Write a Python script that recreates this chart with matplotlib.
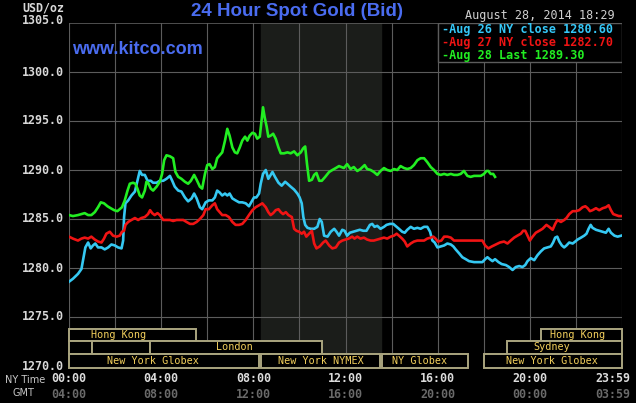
import matplotlib
matplotlib.use("Agg")
import matplotlib.pyplot as plt
from matplotlib.patches import Rectangle
import matplotlib.transforms as mtransforms

# Aug 26 NY close series (cyan): hours (NY time), price
aug26_t = [0.00, 0.17, 0.39, 0.54, 0.61, 0.71, 0.83, 0.94, 1.04, 1.14, 1.26, 1.41, 1.55, 1.70,
           1.84, 1.99, 2.13, 2.28, 2.35, 2.39, 2.45, 2.57, 2.71, 2.86, 2.97, 3.07, 3.17, 3.29,
           3.41, 3.55, 3.65, 3.80, 3.94, 4.09, 4.23, 4.38, 4.48, 4.59, 4.74, 4.88, 5.03, 5.17,
           5.32, 5.43, 5.54, 5.68, 5.78, 5.93, 6.07, 6.22, 6.33, 6.43, 6.54, 6.65, 6.77, 6.87,
           6.97, 7.09, 7.23, 7.38, 7.52, 7.67, 7.81, 7.93, 8.03, 8.13, 8.25, 8.32, 8.42, 8.54,
           8.65, 8.75, 8.83, 8.94, 9.09, 9.23, 9.38, 9.48, 9.62, 9.77, 9.91, 10.01, 10.10, 10.17,
           10.25, 10.35, 10.49, 10.64, 10.78, 10.88, 10.97, 11.07, 11.22, 11.36, 11.51, 11.61,
           11.72, 11.86, 11.96, 12.07, 12.19, 12.33, 12.48, 12.62, 12.77, 12.91, 13.06, 13.16,
           13.26, 13.38, 13.52, 13.67, 13.78, 13.93, 14.07, 14.17, 14.32, 14.46, 14.57, 14.68,
           14.83, 14.97, 15.12, 15.26, 15.41, 15.55, 15.67, 15.77, 15.87, 15.99, 16.13, 16.28,
           16.42, 16.57, 16.68, 16.78, 16.93, 17.07, 17.22, 17.36, 17.58, 17.65, 17.94, 18.06,
           18.16, 18.26, 18.38, 18.49, 18.64, 18.78, 18.96, 19.10, 19.25, 19.39, 19.54, 19.68,
           19.80, 19.90, 20.04, 20.19, 20.33, 20.48, 20.62, 20.77, 20.91, 21.01, 21.10, 21.19,
           21.28, 21.39, 21.49, 21.59, 21.71, 21.86, 21.97, 22.07, 22.22, 22.36, 22.46, 22.55,
           22.64, 22.72, 22.87, 23.01, 23.16, 23.30, 23.42, 23.52, 23.67, 23.81, 23.97]
aug26_p = [1278.6, 1278.9, 1279.4, 1279.9, 1280.8, 1282.1, 1282.6, 1282.0, 1282.3, 1282.5, 1282.1,
           1282.1, 1281.9, 1282.1, 1282.4, 1282.3, 1282.1, 1282.0, 1282.8, 1285.2, 1286.6, 1286.9,
           1287.4, 1287.8, 1288.9, 1289.9, 1289.5, 1289.5, 1288.9, 1288.9, 1288.7, 1288.7, 1288.9,
           1288.9, 1289.1, 1289.4, 1288.9, 1288.3, 1287.9, 1287.8, 1287.2, 1286.8, 1287.1, 1287.6,
           1287.1, 1286.2, 1286.0, 1286.7, 1286.9, 1286.9, 1287.2, 1287.9, 1287.7, 1287.4, 1287.6,
           1287.4, 1287.6, 1287.1, 1286.9, 1286.7, 1286.7, 1286.6, 1286.3, 1286.8, 1287.2, 1287.2,
           1287.6, 1288.6, 1289.6, 1290.0, 1289.1, 1289.5, 1289.8, 1289.3, 1288.7, 1288.4, 1288.8,
           1288.6, 1288.3, 1288.0, 1287.6, 1287.2, 1286.6, 1285.2, 1284.4, 1284.1, 1284.0, 1284.0,
           1284.2, 1285.0, 1284.7, 1283.3, 1283.2, 1283.7, 1284.0, 1283.7, 1283.3, 1283.9, 1283.8,
           1283.3, 1283.6, 1283.7, 1283.8, 1283.9, 1283.8, 1283.8, 1284.4, 1284.5, 1284.2, 1284.3,
           1284.0, 1284.2, 1284.4, 1284.5, 1284.5, 1284.3, 1284.0, 1283.7, 1283.6, 1283.9, 1284.2,
           1284.0, 1284.1, 1284.0, 1284.2, 1284.2, 1283.7, 1282.8, 1282.6, 1282.1, 1282.2, 1282.3,
           1282.5, 1282.4, 1282.2, 1281.9, 1281.5, 1281.1, 1280.9, 1280.7, 1280.6, 1280.6, 1280.6,
           1280.9, 1281.1, 1280.9, 1280.7, 1280.9, 1280.6, 1280.4, 1280.3, 1280.1, 1279.8, 1280.1,
           1280.2, 1280.1, 1280.3, 1280.7, 1281.0, 1280.8, 1281.3, 1281.7, 1282.0, 1282.1, 1282.2,
           1282.6, 1283.1, 1283.2, 1282.7, 1282.3, 1282.1, 1282.3, 1282.6, 1282.5, 1282.7, 1282.9,
           1283.1, 1283.3, 1283.5, 1284.0, 1284.4, 1284.1, 1283.9, 1283.8, 1283.7, 1283.6, 1284.0,
           1283.6, 1283.3, 1283.2, 1283.3]

# Aug 27 NY close series (red)
aug27_t = [0.00, 0.17, 0.39, 0.54, 0.68, 0.83, 0.97, 1.12, 1.26, 1.41, 1.52, 1.62, 1.77, 1.91,
           2.06, 2.20, 2.30, 2.39, 2.45, 2.57, 2.71, 2.86, 3.00, 3.14, 3.29, 3.43, 3.52, 3.61,
           3.72, 3.84, 3.94, 4.09, 4.23, 4.38, 4.52, 4.67, 4.81, 4.96, 5.10, 5.25, 5.39, 5.54,
           5.68, 5.83, 5.93, 6.07, 6.22, 6.33, 6.43, 6.54, 6.65, 6.80, 6.94, 7.09, 7.23, 7.38,
           7.52, 7.67, 7.81, 7.96, 8.10, 8.25, 8.39, 8.54, 8.65, 8.75, 8.86, 8.97, 9.09, 9.19,
           9.29, 9.41, 9.52, 9.67, 9.77, 9.87, 9.99, 10.10, 10.20, 10.30, 10.42, 10.54, 10.64,
           10.74, 10.88, 11.03, 11.14, 11.29, 11.43, 11.58, 11.72, 11.86, 12.00, 12.14, 12.29,
           12.39, 12.51, 12.65, 12.80, 12.94, 13.09, 13.23, 13.38, 13.52, 13.67, 13.81, 13.96,
           14.10, 14.22, 14.32, 14.46, 14.57, 14.68, 14.83, 14.97, 15.12, 15.26, 15.41, 15.55,
           15.70, 15.81, 15.91, 16.01, 16.16, 16.28, 16.42, 16.57, 16.71, 16.86, 17.00, 17.29,
           17.58, 17.65, 17.94, 18.06, 18.20, 18.35, 18.52, 18.70, 18.88, 19.03, 19.17, 19.32,
           19.46, 19.61, 19.71, 19.80, 19.90, 20.00, 20.12, 20.26, 20.41, 20.55, 20.72, 20.84,
           20.99, 21.10, 21.20, 21.35, 21.49, 21.59, 21.71, 21.86, 22.00, 22.14, 22.29, 22.41,
           22.51, 22.61, 22.72, 22.87, 23.01, 23.16, 23.30, 23.42, 23.52, 23.62, 23.74, 23.86,
           23.97]
aug27_p = [1283.2, 1283.0, 1282.8, 1283.0, 1283.1, 1283.0, 1283.2, 1282.9, 1282.7, 1282.6, 1283.0,
           1283.5, 1283.7, 1283.3, 1283.2, 1283.3, 1283.7, 1283.8, 1284.4, 1284.7, 1284.9, 1285.1,
           1284.9, 1285.1, 1285.2, 1285.5, 1285.9, 1285.6, 1285.4, 1285.6, 1285.4, 1284.9, 1284.9,
           1284.9, 1284.8, 1284.9, 1284.9, 1284.9, 1284.7, 1284.5, 1284.5, 1284.7, 1285.0, 1285.4,
           1286.0, 1286.0, 1286.4, 1286.6, 1286.0, 1285.7, 1285.4, 1285.4, 1285.2, 1284.7, 1284.4,
           1284.4, 1284.5, 1284.9, 1285.4, 1285.9, 1286.2, 1286.4, 1286.6, 1286.2, 1285.7, 1285.4,
           1285.6, 1285.9, 1286.0, 1285.7, 1285.5, 1285.7, 1285.4, 1285.2, 1284.0, 1283.8, 1283.7,
           1283.5, 1283.7, 1283.2, 1283.5, 1283.8, 1282.5, 1282.0, 1282.2, 1282.6, 1282.8, 1282.3,
           1282.0, 1282.1, 1282.6, 1282.8, 1282.9, 1283.0, 1283.2, 1283.0, 1283.2, 1283.0, 1283.1,
           1282.9, 1282.8, 1282.8, 1282.9, 1283.0, 1283.1, 1283.0, 1283.2, 1283.3, 1283.5, 1283.3,
           1283.0, 1282.7, 1282.2, 1282.5, 1282.7, 1282.8, 1282.8, 1282.8, 1283.0, 1283.1, 1283.2,
           1283.0, 1282.7, 1282.8, 1283.2, 1283.2, 1283.1, 1282.8, 1282.8, 1282.8, 1282.8, 1282.8,
           1282.8, 1282.8, 1282.3, 1282.0, 1282.2, 1282.4, 1282.6, 1282.7, 1282.5, 1282.8, 1283.1,
           1283.3, 1283.5, 1283.8, 1283.8, 1283.3, 1282.8, 1283.2, 1283.6, 1283.8, 1284.0, 1284.4,
           1284.2, 1283.9, 1284.5, 1284.9, 1284.7, 1284.9, 1285.1, 1285.5, 1285.8, 1285.8, 1285.9,
           1286.2, 1286.3, 1286.1, 1285.8, 1285.9, 1286.1, 1285.9, 1286.1, 1286.2, 1286.4, 1285.9,
           1285.5, 1285.4, 1285.3, 1285.3]

# Aug 28 last (green), stops at 18:29
aug28_t = [0.00, 0.17, 0.39, 0.54, 0.68, 0.83, 0.97, 1.12, 1.26, 1.38, 1.52, 1.67, 1.81, 1.96,
           2.10, 2.20, 2.30, 2.42, 2.54, 2.64, 2.78, 2.88, 2.97, 3.07, 3.17, 3.29, 3.36, 3.43,
           3.55, 3.65, 3.80, 3.94, 4.04, 4.13, 4.23, 4.38, 4.52, 4.62, 4.74, 4.88, 5.03, 5.17,
           5.29, 5.43, 5.54, 5.68, 5.78, 5.90, 6.00, 6.10, 6.22, 6.33, 6.43, 6.54, 6.65, 6.77,
           6.87, 6.97, 7.09, 7.20, 7.30, 7.41, 7.52, 7.64, 7.74, 7.84, 7.96, 8.07, 8.17, 8.28,
           8.36, 8.42, 8.49, 8.58, 8.65, 8.75, 8.86, 8.97, 9.09, 9.19, 9.33, 9.48, 9.62, 9.77,
           9.91, 10.06, 10.16, 10.25, 10.33, 10.42, 10.54, 10.64, 10.74, 10.86, 10.97, 11.12,
           11.29, 11.43, 11.58, 11.72, 11.93, 12.07, 12.22, 12.36, 12.51, 12.65, 12.83, 12.94,
           13.09, 13.23, 13.38, 13.52, 13.67, 13.81, 13.96, 14.10, 14.25, 14.39, 14.54, 14.68,
           14.83, 14.97, 15.12, 15.26, 15.41, 15.55, 15.70, 15.84, 15.99, 16.13, 16.28, 16.42,
           16.57, 16.71, 16.86, 17.00, 17.14, 17.29, 17.43, 17.58, 17.65, 17.87, 18.01, 18.12,
           18.20, 18.30, 18.41, 18.49]
aug28_p = [1285.4, 1285.3, 1285.4, 1285.5, 1285.6, 1285.4, 1285.4, 1285.7, 1286.2, 1286.7, 1286.6,
           1286.3, 1286.1, 1285.9, 1285.8, 1286.0, 1286.2, 1286.9, 1287.9, 1288.6, 1288.7, 1288.6,
           1288.1, 1287.4, 1287.2, 1287.9, 1288.8, 1288.7, 1288.1, 1287.9, 1288.3, 1288.8, 1289.6,
           1291.0, 1291.5, 1291.4, 1291.2, 1289.8, 1289.3, 1289.1, 1288.8, 1288.6, 1288.9, 1289.5,
           1289.0, 1288.3, 1288.1, 1289.6, 1290.5, 1290.6, 1290.1, 1290.3, 1291.2, 1291.5, 1291.8,
           1293.0, 1294.2, 1293.5, 1292.3, 1291.8, 1291.7, 1292.3, 1293.0, 1293.4, 1293.0, 1293.5,
           1293.8, 1293.7, 1293.2, 1293.4, 1295.1, 1296.4, 1295.4, 1294.4, 1293.4, 1293.5, 1293.7,
           1293.2, 1292.3, 1291.7, 1291.7, 1291.8, 1291.7, 1291.9, 1291.5, 1291.8, 1292.2, 1292.4,
           1290.6, 1288.9, 1289.0, 1289.5, 1289.7, 1288.9, 1288.9, 1289.3, 1289.8, 1290.0, 1290.2,
           1290.4, 1290.2, 1290.6, 1290.1, 1290.3, 1289.9, 1290.1, 1290.5, 1290.1, 1290.0, 1289.8,
           1289.5, 1289.9, 1290.2, 1290.0, 1289.9, 1290.1, 1290.0, 1290.4, 1290.2, 1290.1, 1290.2,
           1290.5, 1291.0, 1291.2, 1291.2, 1290.8, 1290.3, 1290.0, 1289.6, 1289.5, 1289.6, 1289.5,
           1289.6, 1289.5, 1289.5, 1289.6, 1289.9, 1289.4, 1289.3, 1289.4, 1289.4, 1289.4, 1289.6,
           1289.9, 1289.9, 1289.6, 1289.6, 1289.3]

legend_labels = ["-Aug 26 NY close 1280.60", "-Aug 27 NY close 1282.70", "-Aug 28 Last 1289.30"]

ny_ticks = [0, 4, 8, 12, 16, 20, 24]
ny_labels = ["00:00", "04:00", "08:00", "12:00", "16:00", "20:00", "23:59"]
gmt_labels = ["04:00", "08:00", "12:00", "16:00", "20:00", "00:00", "03:59"]
y_ticks = [1270, 1275, 1280, 1285, 1290, 1295, 1300, 1305]

# market sessions: (label, row, start hour, end hour, label hour)
sessions = [
    ("Hong Kong", 0, 0.0, 5.5, 2.15),
    ("Hong Kong", 0, 20.5, 24.0, 22.09),
    ("", 1, 0.0, 1.0, None),
    ("", 1, 1.0, 3.5, None),
    ("London", 1, 3.5, 11.0, 7.16),
    ("Sydney", 1, 19.0, 24.0, 20.96),
    ("New York Globex", 2, 0.0, 8.25, 3.65),
    ("New York NYMEX", 2, 8.33, 13.5, 10.94),
    ("NY Globex", 2, 13.58, 17.33, 15.23),
    ("New York Globex", 2, 18.0, 24.0, 20.96),
]
nymex_open = (8.33, 13.55)

W, H = 636, 403
def fx(px):
    return px / W
def fy(py):
    return 1 - py / H

mono = "DejaVu Sans Mono"
grid_c = "#5c5c5c"
box_c = "#aaa57f"
txt_c = "#f2cf5c"

fig = plt.figure(figsize=(W / 100, H / 100), dpi=100, facecolor="black")
ax = fig.add_axes([fx(69), fy(368), (622 - 69) / W, (368 - 23) / H])
ax.set_facecolor("black")
ax.set_xlim(0, 24)
ax.set_ylim(1305 - 345 / 9.8, 1305)

ax.axvspan(nymex_open[0], nymex_open[1], color="#1b1d1a", zorder=0)
for h in range(0, 25, 2):
    ax.axvline(h, color=grid_c, lw=0.8, zorder=1)
for v in y_ticks[1:]:
    ax.axhline(v, color=grid_c, lw=1.2 if v == 1305 else 0.8, zorder=1)
for s in ax.spines.values():
    s.set_visible(False)

ax.plot(aug26_t, aug26_p, color="#35c8f2", lw=1.9, zorder=3)
ax.plot(aug27_t, aug27_p, color="#f01414", lw=1.9, zorder=3)
ax.plot(aug28_t, aug28_p, color="#22ee22", lw=1.9, zorder=4)

# session boxes at the bottom
trans = mtransforms.blended_transform_factory(ax.transData, ax.transAxes)
rows = [(0.0783, 0.113), (0.0406, 0.0783), (0.0, 0.0406)]
for name, row, t0, t1, tl in sessions:
    y0, y1 = rows[row]
    ax.add_patch(Rectangle((t0, y0), t1 - t0, y1 - y0, transform=trans, facecolor="black",
                           edgecolor=box_c, lw=1.4, zorder=5, clip_on=False))
    if name:
        ax.text(tl, (y0 + y1) / 2, name, transform=trans, ha="center", va="center",
                family=mono, fontsize=7.3, color=txt_c, zorder=6)

# legend box
ax.add_patch(Rectangle((fx(438), fy(62)), fx(622) - fx(438), fy(23) - fy(62),
                       transform=fig.transFigure, facecolor="black", edgecolor=grid_c,
                       lw=1.0, zorder=7))
leg_colors = ["#35c8f8", "#f01414", "#22ee22"]
for i, (lab, c) in enumerate(zip(legend_labels, leg_colors)):
    fig.text(fx(442), fy(30 + 12.5 * i), lab, color=c, family=mono, fontsize=8.5,
             fontweight="bold", va="center", ha="left", zorder=8)

# axes ticks as text
ax.set_xticks([])
ax.set_yticks([])
for v in y_ticks:
    fig.text(fx(64), fy(20 if v == 1305 else 23 + (1305 - v) * 9.8), f"{v:.1f}",
             color="#d8d8d8", family=mono, fontsize=8.4, fontweight="bold",
             ha="right", va="center")
for t, a, b in zip(ny_ticks, ny_labels, gmt_labels):
    xp = 69 + t * 553 / 24
    ha = "center"
    if t == 24:
        xp, ha = 630, "right"
    fig.text(fx(xp), fy(379), a, color="#dcdcdc", family=mono, fontsize=8.4,
             fontweight="bold", ha=ha, va="center")
    fig.text(fx(xp), fy(394), b, color="#6a6a6a", family=mono, fontsize=8.4,
             fontweight="bold", ha=ha, va="center")
fig.text(fx(25), fy(380), "NY Time", color="#c8c8c8", fontsize=7, ha="center", va="center")
fig.text(fx(23), fy(393), "GMT", color="#c8c8c8", fontsize=7, ha="center", va="center")
fig.text(fx(64), fy(8), "USD/oz", color="#d8d8d8", family=mono, fontsize=8.4,
         fontweight="bold", ha="right", va="center")

fig.text(fx(297), fy(12), "24 Hour Spot Gold (Bid)", color="#4a6cf0",
         family="Liberation Sans", fontsize=13.5, fontweight="bold", ha="center", va="center")
fig.text(fx(72), fy(49), "www.kitco.com", color="#4a6cf0", family="Liberation Sans",
         fontsize=13, fontweight="bold", ha="left", va="center")
fig.text(fx(615), fy(15), "August 28, 2014 18:29", color="#d0d0d0", family=mono,
         fontsize=8.5, ha="right", va="center")

fig.savefig("out.png", dpi=100, facecolor="black")
